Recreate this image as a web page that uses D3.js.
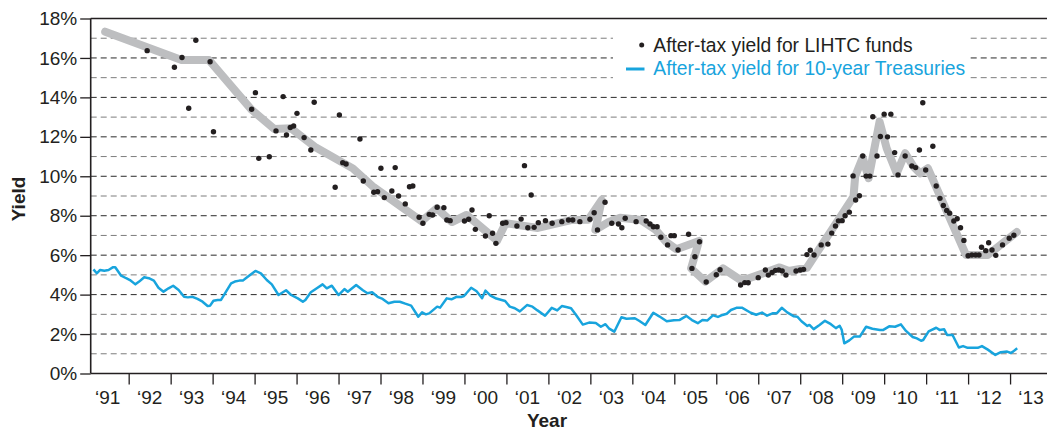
<!DOCTYPE html>
<html>
<head>
<meta charset="utf-8">
<script src="https://cdn.jsdelivr.net/npm/d3@7"></script>
<style>
  html, body { margin: 0; padding: 0; background: #fff; }
  svg { display: block; }
  text { font-family: "Liberation Sans", Arial, Helvetica, sans-serif; }
</style>
</head>
<body>
<div id="chart"></div>
<script>
// ---------------- DATA ----------------
const yTicks = [0, 2, 4, 6, 8, 10, 12, 14, 16, 18];
const gridValues = d3.range(1, 18);
const yearTicks = d3.range(1992, 2014);
const yearLabels = ["‘91","‘92","‘93","‘94","‘95","‘96","‘97","‘98","‘99","‘00","‘01","‘02","‘03","‘04","‘05","‘06","‘07","‘08","‘09","‘10","‘11","‘12","‘13"];
const yearLabelYears = d3.range(1991, 2014);

const legendLabels = ["After-tax yield for LIHTC funds", "After-tax yield for 10-year Treasuries"];

// After-tax yield for 10-year Treasuries [year, %]
const treasury = [
 [1991.16,5.28],[1991.24,5.08],[1991.32,5.25],[1991.42,5.21],[1991.52,5.25],[1991.63,5.39],[1991.68,5.39],[1991.82,4.96],[1991.94,4.83],
 [1992.03,4.74],[1992.16,4.52],[1992.25,4.66],[1992.37,4.88],[1992.48,4.83],[1992.60,4.71],[1992.71,4.35],[1992.83,4.15],[1992.95,4.32],
 [1993.06,4.45],[1993.19,4.23],[1993.32,3.89],[1993.41,3.86],[1993.52,3.89],[1993.64,3.78],[1993.76,3.64],[1993.88,3.42],[1993.94,3.44],
 [1994.02,3.69],[1994.12,3.73],[1994.20,3.73],[1994.32,4.15],[1994.44,4.57],[1994.53,4.66],[1994.64,4.71],[1994.72,4.71],[1994.79,4.83],[1994.90,5.01],
 [1995.02,5.20],[1995.15,5.08],[1995.29,4.74],[1995.41,4.52],[1995.57,3.98],[1995.75,4.22],[1995.87,3.98],
 [1996.03,3.81],[1996.15,3.64],[1996.21,3.73],[1996.34,4.12],[1996.50,4.35],[1996.62,4.52],[1996.72,4.32],[1996.84,4.45],
 [1997.00,3.98],[1997.14,4.28],[1997.22,4.15],[1997.42,4.49],[1997.58,4.22],[1997.69,4.07],[1997.80,4.12],[1997.93,3.89],
 [1998.05,3.78],[1998.19,3.56],[1998.33,3.64],[1998.46,3.64],[1998.59,3.54],[1998.73,3.44],[1998.90,2.88],[1998.99,3.10],
 [1999.08,3.00],[1999.16,3.05],[1999.35,3.39],[1999.42,3.34],[1999.58,3.81],[1999.69,3.76],[1999.81,3.89],[1999.92,3.88],[1999.99,3.93],
 [2000.16,4.35],[2000.29,4.17],[2000.42,3.82],[2000.50,4.20],[2000.62,3.95],[2000.76,3.80],[2000.97,3.68],
 [2001.08,3.39],[2001.20,3.31],[2001.32,3.15],[2001.49,3.47],[2001.62,3.39],[2001.74,3.20],[2001.92,2.93],
 [2002.08,3.33],[2002.21,3.20],[2002.32,3.42],[2002.45,3.36],[2002.54,3.31],[2002.66,2.97],[2002.82,2.48],[2002.97,2.58],
 [2003.13,2.56],[2003.25,2.37],[2003.36,2.50],[2003.44,2.29],[2003.57,2.12],[2003.74,2.85],[2003.86,2.78],
 [2004.06,2.80],[2004.17,2.66],[2004.31,2.46],[2004.50,3.08],[2004.64,2.90],[2004.82,2.65],[2004.99,2.70],
 [2005.12,2.71],[2005.29,2.92],[2005.42,2.71],[2005.56,2.55],[2005.67,2.71],[2005.79,2.69],[2005.92,2.95],
 [2006.04,2.87],[2006.15,2.97],[2006.25,3.03],[2006.35,3.22],[2006.48,3.33],[2006.61,3.34],[2006.82,3.08],[2006.95,2.98],
 [2007.09,3.09],[2007.21,2.93],[2007.34,3.05],[2007.44,3.05],[2007.56,3.33],[2007.69,3.10],[2007.85,2.90],[2007.93,2.88],
 [2008.03,2.65],[2008.17,2.41],[2008.22,2.46],[2008.32,2.25],[2008.46,2.46],[2008.59,2.67],[2008.73,2.50],[2008.85,2.30],[2008.94,2.42],[2008.99,2.21],
 [2009.05,1.53],[2009.17,1.68],[2009.28,1.87],[2009.42,1.87],[2009.57,2.37],[2009.72,2.27],[2009.90,2.21],[2009.98,2.21],
 [2010.12,2.39],[2010.26,2.37],[2010.40,2.49],[2010.52,2.16],[2010.68,1.85],[2010.78,1.78],[2010.88,1.66],[2010.93,1.70],
 [2011.06,2.14],[2011.24,2.32],[2011.32,2.21],[2011.43,2.24],[2011.50,1.95],[2011.63,1.95],[2011.78,1.32],[2011.88,1.39],[2011.99,1.30],
 [2012.23,1.30],[2012.33,1.39],[2012.47,1.21],[2012.65,0.94],[2012.78,1.08],[2012.93,1.11],[2013.02,1.04],[2013.07,1.11],[2013.17,1.28]
];

// Trend of LIHTC fund yields (thick grey band) [year, %]
const lihtcTrend = [
 [1991.44,17.33],[1993.26,15.90],[1993.91,15.90],[1994.93,13.37],[1995.47,12.40],[1995.87,12.43],[1996.43,11.50],
 [1997.34,10.40],[1997.81,9.50],[1998.98,7.72],[1999.34,8.38],[1999.70,7.68],[2000.05,8.04],[2000.78,6.74],[2000.98,7.62],
 [2001.75,7.38],[2002.54,7.78],[2002.95,7.80],[2003.27,8.80],[2003.12,7.28],[2003.45,7.70],[2003.71,7.90],[2004.21,7.78],
 [2004.56,7.28],[2004.80,6.68],[2005.05,6.30],[2005.59,6.72],[2005.40,5.33],[2005.74,4.66],[2006.16,5.33],[2006.61,4.70],
 [2007.51,5.38],[2007.73,5.20],[2008.16,5.36],[2009.27,8.97],[2009.31,10.00],[2009.49,10.95],[2009.63,9.90],[2009.89,12.77],
 [2010.06,11.42],[2010.30,10.15],[2010.50,11.17],[2010.70,10.49],[2010.86,10.15],[2011.04,10.41],[2011.95,6.01],[2012.47,6.01],[2013.16,7.17]
];

// After-tax yield for LIHTC funds (individual funds) [year, %]
const lihtcFunds = [
 [1992.44,16.37],[1993.09,15.53],[1993.27,16.02],[1993.43,13.45],[1993.60,16.90],[1993.94,15.81],[1994.02,12.26],
 [1994.93,13.40],[1995.02,14.24],[1995.10,10.91],[1995.35,10.99],[1995.51,12.30],[1995.68,14.04],[1995.76,12.09],[1995.85,12.47],[1995.93,12.55],
 [1996.01,13.19],[1996.18,11.96],[1996.34,11.33],[1996.42,13.75],[1996.92,9.44],[1997.02,13.11],[1997.10,10.69],[1997.18,10.62],
 [1997.51,11.89],[1997.59,9.76],[1997.84,9.19],[1997.93,9.22],[1998.01,10.41],[1998.09,8.92],[1998.27,9.25],[1998.35,10.44],[1998.43,9.00],
 [1998.59,8.60],[1998.69,9.47],[1998.77,9.51],[1998.92,7.92],[1999.01,7.62],[1999.16,8.07],[1999.24,8.04],[1999.35,8.43],[1999.51,8.41],
 [1999.58,7.78],[1999.66,7.75],[2000.00,7.73],[2000.10,7.82],[2000.18,8.29],[2000.26,7.31],[2000.50,6.97],[2000.59,8.00],[2000.67,7.11],
 [2000.75,6.60],[2000.91,7.62],[2000.99,7.65],[2001.25,7.48],[2001.35,7.83],[2001.43,10.54],[2001.51,7.39],[2001.59,9.05],[2001.66,7.41],
 [2001.76,7.65],[2001.93,7.75],[2002.09,7.62],[2002.32,7.70],[2002.48,7.78],[2002.58,7.78],[2002.75,7.70],[2002.99,7.82],[2003.09,8.15],
 [2003.17,7.28],[2003.35,8.68],[2003.51,7.62],[2003.67,7.58],[2003.75,7.39],[2003.83,7.87],[2004.09,7.70],[2004.33,7.73],[2004.42,7.58],
 [2004.50,7.44],[2004.59,7.44],[2004.68,6.91],[2004.84,6.52],[2004.92,6.99],[2005.00,6.99],[2005.09,6.26],[2005.34,7.06],[2005.42,5.33],
 [2005.49,5.92],[2005.60,6.68],[2005.76,4.64],[2006.00,5.01],[2006.09,5.26],[2006.58,4.49],[2006.68,4.61],[2006.76,4.60],[2007.00,4.86],
 [2007.17,5.25],[2007.24,4.99],[2007.33,5.12],[2007.41,5.23],[2007.49,5.25],[2007.57,5.20],[2007.66,4.99],[2007.90,5.20],[2008.00,5.25],
 [2008.08,5.28],[2008.16,6.03],[2008.24,6.25],[2008.33,6.01],[2008.50,6.52],[2008.66,6.56],[2008.75,7.12],[2008.84,7.48],[2008.91,7.74],
 [2009.00,7.75],[2009.07,8.00],[2009.17,8.18],[2009.26,10.02],[2009.32,8.80],[2009.41,9.01],[2009.49,11.03],[2009.57,10.01],[2009.66,10.01],
 [2009.73,13.02],[2009.83,11.03],[2009.91,12.02],[2010.00,13.15],[2010.08,12.00],[2010.16,13.15],[2010.25,11.20],[2010.33,10.07],[2010.50,11.03],
 [2010.66,10.52],[2010.75,10.44],[2010.84,11.33],[2010.92,13.73],[2010.99,10.32],[2011.16,11.52],[2011.24,9.51],[2011.33,8.88],[2011.41,8.52],
 [2011.49,8.27],[2011.56,8.13],[2011.66,7.73],[2011.74,7.85],[2011.82,7.39],[2011.90,6.75],[2012.00,5.97],[2012.09,6.01],[2012.18,6.01],
 [2012.26,6.01],[2012.32,6.40],[2012.42,6.23],[2012.49,6.63],[2012.57,6.26],[2012.66,5.99],[2012.82,6.52],[2012.98,6.86],[2013.09,7.01]
];

// ---------------- CHART ----------------
(function () {
const W = 1047, H = 432;
const pL = 90.7, pR = 1047, pT = 18.5, pB = 373.5;
const ink = "#231f20", blue = "#18a4dd", band = "#bdbec0";

const svg = d3.select("#chart").append("svg").attr("width", W).attr("height", H);

const x = d3.scaleLinear().domain([1991.095, 2013.88]).range([pL, pR]);
const y = d3.scaleLinear().domain([0, 18]).range([pB, pT]);

// dashed gridlines
svg.append("g").selectAll("line").data(gridValues).join("line")
  .attr("x1", pL).attr("x2", pR)
  .attr("y1", d => y(d)).attr("y2", d => y(d))
  .attr("stroke", d => d % 2 === 0 ? "#2a2a2a" : "#7d7d7d")
  .attr("stroke-width", 1)
  .attr("stroke-dasharray", "6,4");

// legend background
svg.append("rect").attr("x", 613).attr("y", 26).attr("width", 357).attr("height", 58).attr("fill", "#fff");

// grey trend band
svg.append("path").datum(lihtcTrend)
  .attr("d", d3.line().x(d => x(d[0])).y(d => y(d[1])))
  .attr("fill", "none").attr("stroke", band).attr("stroke-width", 8)
  .attr("stroke-linejoin", "round").attr("stroke-linecap", "round");

// treasury line
svg.append("path").datum(treasury)
  .attr("d", d3.line().x(d => x(d[0])).y(d => y(d[1])))
  .attr("fill", "none").attr("stroke", blue).attr("stroke-width", 2.5)
  .attr("stroke-linejoin", "round");

// LIHTC dots
svg.append("g").selectAll("circle").data(lihtcFunds).join("circle")
  .attr("cx", d => x(d[0])).attr("cy", d => y(d[1])).attr("r", 2.7).attr("fill", ink);

// Y axis
const yAxis = svg.append("g").attr("transform", `translate(${pL},0)`)
  .call(d3.axisLeft(y).tickValues(yTicks).tickSize(10.5).tickPadding(3).tickFormat(d => d + "%"));
yAxis.select(".domain").remove();
yAxis.selectAll("line").attr("stroke", ink).attr("stroke-width", 1.3);
yAxis.selectAll("text").attr("font-size", 19).attr("fill", ink)
  .attr("font-family", "'Liberation Sans', Arial, Helvetica, sans-serif");

// X axis ticks
const xAxis = svg.append("g").attr("transform", `translate(0,${pB})`)
  .call(d3.axisBottom(x).tickValues(yearTicks).tickSize(11).tickFormat(""));
xAxis.select(".domain").remove();
xAxis.selectAll("line").attr("stroke", ink).attr("stroke-width", 1.3);

// Year labels at mid-year
svg.append("g").selectAll("text").data(yearLabelYears).join("text")
  .attr("x", d => x(d + 0.5)).attr("y", 403.5)
  .attr("text-anchor", "middle").attr("font-size", 19).attr("fill", ink)
  .text((d, i) => yearLabels[i]);

// frame lines: left axis, bottom axis, top border
svg.append("line").attr("x1", pL).attr("x2", pL).attr("y1", pT).attr("y2", pB)
  .attr("stroke", ink).attr("stroke-width", 1.6);
svg.append("line").attr("x1", pL).attr("x2", pR).attr("y1", pB).attr("y2", pB)
  .attr("stroke", ink).attr("stroke-width", 1.6);
svg.append("line").attr("x1", pL).attr("x2", pR).attr("y1", pT).attr("y2", pT)
  .attr("stroke", ink).attr("stroke-width", 1.3);

// Axis titles
svg.append("text").attr("transform", "translate(25,199) rotate(-90)")
  .attr("text-anchor", "middle").attr("font-size", 19).attr("font-weight", "bold").attr("fill", ink)
  .text("Yield");
svg.append("text").attr("x", 547).attr("y", 427)
  .attr("text-anchor", "middle").attr("font-size", 19).attr("font-weight", "bold").attr("fill", ink)
  .text("Year");

// Legend
const lg = svg.append("g");
lg.append("circle").attr("cx", 641.7).attr("cy", 45).attr("r", 2.5).attr("fill", ink);
lg.append("text").attr("x", 653.3).attr("y", 51.7).attr("font-size", 19.3).attr("fill", ink).text(legendLabels[0]);
lg.append("line").attr("x1", 626).attr("x2", 644.5).attr("y1", 69).attr("y2", 69)
  .attr("stroke", blue).attr("stroke-width", 3);
lg.append("text").attr("x", 653.3).attr("y", 75).attr("font-size", 19.3).attr("fill", blue).text(legendLabels[1]);
})();
</script>
</body>
</html>
